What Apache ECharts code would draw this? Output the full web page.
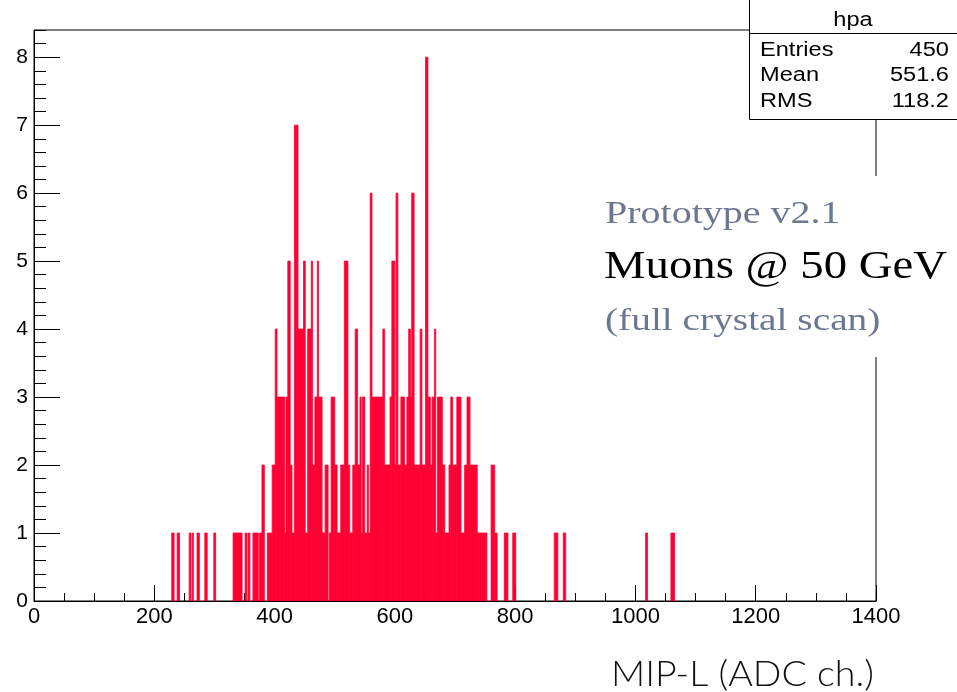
<!DOCTYPE html>
<html>
<head>
<meta charset="utf-8">
<script src="https://cdn.jsdelivr.net/npm/echarts@6/dist/echarts.min.js"></script>
<style>
  html, body { margin: 0; padding: 0; background: #ffffff; }
  #chart { width: 957px; height: 692px; }
</style>
</head>
<body>
<div id="chart"></div>
<script>
// Histogram "hpa": runs of adjacent bins sharing the same count (ADC channel edges).
const segLo = [229, 238, 258, 263, 271, 284, 299, 331, 351, 356, 364, 375, 379, 388, 396, 401, 404, 417, 419, 422,
  426, 429, 433, 439, 448, 451, 455, 461, 463, 467, 471, 473, 479, 484, 491, 494, 500, 504, 510, 516,
  522, 525, 530, 534, 538, 542, 544, 546, 550, 554, 556, 559, 562, 580, 583, 592, 595, 600, 602, 605,
  610, 616, 620, 623, 626, 628, 632, 642, 645, 651, 655, 659, 662, 666, 668, 671, 679, 683, 690, 693,
  696, 703, 710, 716, 720, 725, 737, 760, 766, 782, 796, 865, 880, 1017, 1059];
const segHi = [233, 242, 261, 265, 275, 288, 302, 346, 354, 359, 373, 379, 383, 396, 401, 404, 417, 419, 422, 426,
  429, 433, 439, 448, 451, 455, 461, 463, 467, 471, 473, 479, 484, 489, 494, 500, 504, 510, 516, 522,
  525, 530, 534, 538, 542, 544, 546, 550, 554, 556, 559, 562, 580, 583, 592, 595, 600, 602, 605, 610,
  616, 620, 623, 626, 628, 632, 642, 645, 651, 655, 659, 662, 666, 668, 671, 679, 683, 690, 693, 696,
  703, 710, 716, 720, 725, 737, 753, 766, 770, 788, 801, 871, 884, 1020, 1065];
const segCount = [1, 1, 1, 1, 1, 1, 1, 1, 1, 1, 1, 1, 2, 1, 2, 4, 3, 1, 3, 5,
  2, 1, 7, 4, 5, 1, 4, 5, 2, 3, 5, 3, 1, 2, 1, 3, 2, 1, 2, 5,
  2, 1, 2, 4, 2, 3, 1, 3, 1, 2, 1, 6, 3, 4, 2, 3, 5, 2, 6, 2,
  3, 2, 3, 4, 3, 6, 2, 4, 2, 8, 3, 2, 3, 4, 1, 3, 2, 1, 2, 3,
  2, 3, 1, 2, 3, 2, 1, 2, 1, 1, 1, 1, 1, 1, 1];

// Statistics box contents
const statsTitle = 'hpa';
const statsNames = ['Entries', 'Mean', 'RMS'];
const statsValues = ['450', '551.6', '118.2'];

// Annotation lines and axis title
const noteLines = ['Prototype v2.1', 'Muons @ 50 GeV', '(full crystal scan)'];
const xTitle = 'MIP-L (ADC ch.)';

const histColor = '#ff0033';
const rootFont = '"Liberation Sans", Arial, Helvetica, sans-serif';
const serifFont = '"Liberation Serif", "Times New Roman", serif';
const statsFont = '20px ' + rootFont;
const statsStretch = 1.18;

const histData = segLo.map((lo, i) => [lo, segHi[i], segCount[i]]);

const chart = echarts.init(document.getElementById('chart'), null, { renderer: 'canvas' });

const statsGraphics = [];
statsGraphics.push({
  type: 'rect', z: 100,
  shape: { x: 749.5, y: -2, width: 212, height: 121.5 },
  style: { fill: '#ffffff', stroke: '#000000', lineWidth: 1 }
});
statsGraphics.push({
  type: 'line', z: 101,
  shape: { x1: 749.5, y1: 33.5, x2: 957, y2: 33.5 },
  style: { stroke: '#000000', lineWidth: 1 }
});
statsGraphics.push({
  type: 'text', z: 102, x: 853, y: 20, scaleX: statsStretch,
  style: { text: statsTitle, font: statsFont, fill: '#000', align: 'center', verticalAlign: 'middle' }
});
statsNames.forEach((name, i) => {
  const y = 50 + i * 25.5;
  statsGraphics.push({
    type: 'text', z: 102, x: 760, y: y, scaleX: statsStretch,
    style: { text: name, font: statsFont, fill: '#000', align: 'left', verticalAlign: 'middle' }
  });
  statsGraphics.push({
    type: 'text', z: 102, x: 949, y: y, scaleX: statsStretch,
    style: { text: statsValues[i], font: statsFont, fill: '#000', align: 'right', verticalAlign: 'middle' }
  });
});

const noteGraphics = [
  {
    type: 'rect', z: 90,
    shape: { x: 598, y: 176, width: 359, height: 181 },
    style: { fill: '#ffffff' }
  },
  {
    type: 'text', z: 95, x: 605, y: 215, scaleX: 1.25,
    style: { text: noteLines[0], font: '32px ' + serifFont, fill: '#6b7791', align: 'left', verticalAlign: 'middle' }
  },
  {
    type: 'text', z: 95, x: 604, y: 267, scaleX: 1.14,
    style: { text: noteLines[1], font: '41px ' + serifFont, fill: '#000000', align: 'left', verticalAlign: 'middle' }
  },
  {
    type: 'text', z: 95, x: 605, y: 322, scaleX: 1.23,
    style: { text: noteLines[2], font: '32px ' + serifFont, fill: '#6b7791', align: 'left', verticalAlign: 'middle' }
  },
  {
    type: 'text', z: 95, x: 874, y: 674, scaleX: 1.045,
    style: { text: xTitle, font: '300 36px Lato, "Open Sans", sans-serif', fill: '#111111', align: 'right', verticalAlign: 'middle' }
  }
];

const option = {
  backgroundColor: '#ffffff',
  animation: false,
  grid: {
    left: 34, right: 81, top: 30, bottom: 91,
    show: true, borderColor: '#000000', borderWidth: 1, backgroundColor: 'transparent'
  },
  xAxis: {
    type: 'value', min: 0, max: 1400, interval: 200,
    axisLine: { show: true, lineStyle: { color: '#000', width: 1 } },
    axisTick: { show: true, inside: true, length: 16, lineStyle: { color: '#000', width: 1 } },
    minorTick: { show: true, splitNumber: 4, length: 8, lineStyle: { color: '#000', width: 1 } },
    axisLabel: { color: '#000', fontFamily: rootFont, fontSize: 22, margin: 5, formatter: v => String(v) },
    splitLine: { show: false }
  },
  yAxis: [
    {
      type: 'value', min: 0, max: 8.4, interval: 1,
      axisLine: { show: true, lineStyle: { color: '#000', width: 1 } },
      axisTick: { show: true, inside: true, length: 26, lineStyle: { color: '#000', width: 1 } },
      axisLabel: {
        color: '#000', fontFamily: rootFont, fontSize: 21, margin: 6,
        showMaxLabel: false,
        formatter: v => (Math.abs(v - Math.round(v)) < 1e-6 ? String(Math.round(v)) : '')
      },
      splitLine: { show: false }
    },
    {
      // secondary ticks every 0.2
      type: 'value', min: 0, max: 8.4, interval: 0.2, position: 'left',
      axisLine: { show: false },
      axisTick: { show: true, inside: true, length: 12, lineStyle: { color: '#000', width: 1 } },
      axisLabel: { show: false },
      splitLine: { show: false }
    }
  ],
  series: [{
    type: 'custom',
    name: statsTitle,
    clip: true,
    encode: { x: [0, 1], y: 2 },
    data: histData,
    renderItem: function (params, api) {
      const topLeft = api.coord([api.value(0), api.value(2)]);
      const bottomRight = api.coord([api.value(1), 0]);
      return {
        type: 'rect',
        shape: {
          x: topLeft[0], y: topLeft[1],
          width: bottomRight[0] - topLeft[0],
          height: bottomRight[1] - topLeft[1]
        },
        // a thin outline of the same colour closes the seams between neighbouring bins
        style: { fill: histColor, stroke: histColor, lineWidth: 0.8 }
      };
    }
  }],
  graphic: statsGraphics.concat(noteGraphics)
};

chart.setOption(option);
</script>
</body>
</html>
